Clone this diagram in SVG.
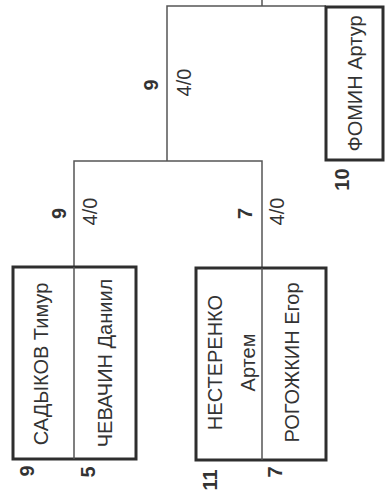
<svg xmlns="http://www.w3.org/2000/svg" width="385" height="496" viewBox="0 0 385 496">
<style>
.box{fill:none;stroke:#2e2e2e;stroke-width:3}
.div{stroke:#555;stroke-width:1.5;fill:none}
.conn{stroke:#555;stroke-width:1.5;fill:none}
.name{font-family:"Liberation Sans",Arial,sans-serif;font-size:20px;fill:#333;text-anchor:middle}
.seed{font-family:"Liberation Sans",Arial,sans-serif;font-size:20px;font-weight:bold;fill:#333;text-anchor:middle}
.score{font-family:"Liberation Sans",Arial,sans-serif;font-size:20px;fill:#333;text-anchor:middle}
</style>
<rect width="385" height="496" fill="#fff"/>
<g id="connectors">
<path class="conn" d="M74 267V161H262V268"/>
<path class="conn" d="M167 161V6H326"/>
<path class="conn" d="M262 0V6"/>
</g>
<g id="match1">
<rect class="box" x="13" y="267" width="123" height="192"/>
<line class="div" x1="74" y1="267" x2="74" y2="459"/>
<text class="name" x="48" y="364" transform="rotate(-90 48 364)">САДЫКОВ Тимур</text>
<text class="name" x="112" y="363" transform="rotate(-90 112 363)">ЧЕВАЧИН Даниил</text>
<text class="seed" x="34" y="471" transform="rotate(-90 34 471)">9</text>
<text class="seed" x="95" y="472" transform="rotate(-90 95 472)">5</text>
</g>
<g id="match2">
<rect class="box" x="196" y="268" width="130" height="192"/>
<line class="div" x1="262" y1="268" x2="262" y2="460"/>
<text class="name" x="222" y="362.5" transform="rotate(-90 222 362.5)">НЕСТЕРЕНКО</text>
<text class="name" x="255" y="362.5" transform="rotate(-90 255 362.5)">Артем</text>
<text class="name" x="299" y="362.5" transform="rotate(-90 299 362.5)">РОГОЖКИН Егор</text>
<text class="seed" x="217" y="480" transform="rotate(-90 217 480)">11</text>
<text class="seed" x="282" y="472" transform="rotate(-90 282 472)">7</text>
</g>
<g id="player10">
<rect class="box" x="326" y="7" width="57" height="153"/>
<text class="name" x="362" y="83.5" transform="rotate(-90 362 83.5)">ФОМИН Артур</text>
<text class="seed" x="349" y="179.5" transform="rotate(-90 349 179.5)">10</text>
</g>
<g id="results">
<text class="seed" x="66" y="213.5" transform="rotate(-90 66 213.5)">9</text>
<text class="score" x="97" y="211.5" transform="rotate(-90 97 211.5)">4/0</text>
<text class="seed" x="252" y="213.5" transform="rotate(-90 252 213.5)">7</text>
<text class="score" x="284" y="211.5" transform="rotate(-90 284 211.5)">4/0</text>
<text class="seed" x="158" y="85" transform="rotate(-90 158 85)">9</text>
<text class="score" x="191" y="82.5" transform="rotate(-90 191 82.5)">4/0</text>
</g>
</svg>
